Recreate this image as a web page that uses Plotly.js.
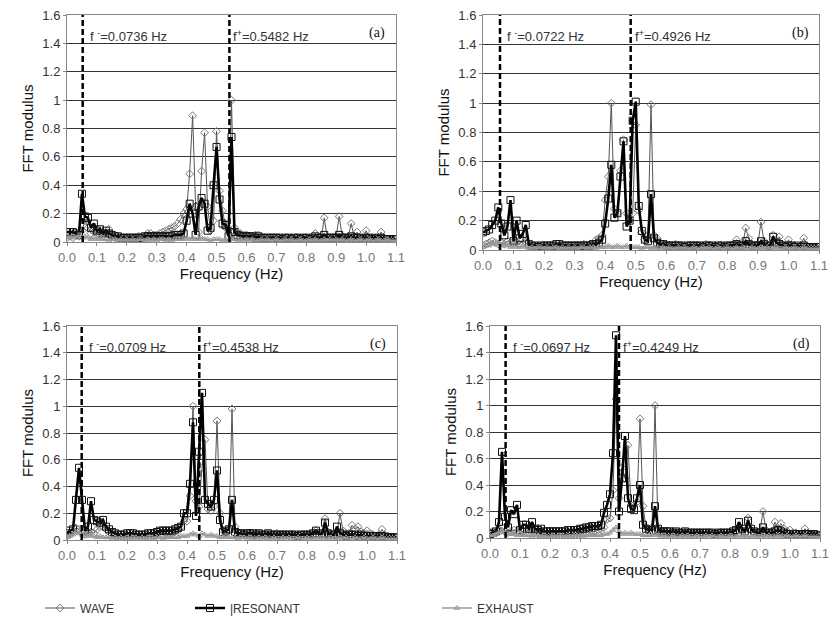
<!DOCTYPE html>
<html>
<head>
<meta charset="utf-8">
<script src="https://cdn.plot.ly/plotly-3.0.1.min.js"></script>
<style>html,body{margin:0;padding:0;background:#fff;}#chart{width:830px;height:624px;}</style>
</head>
<body>
<div id="chart"></div>
<script>
// Frequency bins (Hz)
const FREQ = [0.00,0.01,0.02,0.03,0.04,0.05,0.06,0.07,0.08,0.09,
0.10,0.11,0.12,0.13,0.14,0.15,0.16,0.17,0.18,0.19,
0.20,0.21,0.22,0.23,0.24,0.25,0.26,0.27,0.28,0.29,
0.30,0.31,0.32,0.33,0.34,0.35,0.36,0.37,0.38,0.39,
0.40,0.41,0.42,0.43,0.44,0.45,0.46,0.47,0.48,0.49,
0.50,0.51,0.52,0.53,0.54,0.55,0.56,0.57,0.58,0.59,
0.60,0.61,0.62,0.63,0.64,0.65,0.66,0.67,0.68,0.69,
0.70,0.71,0.72,0.73,0.74,0.75,0.76,0.77,0.78,0.79,
0.80,0.81,0.82,0.83,0.84,0.85,0.86,0.87,0.88,0.89,
0.90,0.91,0.92,0.93,0.94,0.95,0.96,0.97,0.98,0.99,
1.00,1.01,1.02,1.03,1.04,1.05,1.06,1.07,1.08,1.09,1.10];

const SERIES_NAMES = ["WAVE", "|RESONANT", "EXHAUST"];
const PANEL_LABELS = ["(a)", "(b)", "(c)", "(d)"];
const F_MINUS_TEXT = ["0.0736", "0.0722", "0.0709", "0.0697"];
const F_PLUS_TEXT = ["0.5482", "0.4926", "0.4538", "0.4249"];
// Frequencies where the dashed lines are drawn
const F_MINUS_LINE = [0.0525, 0.0557, 0.049, 0.052];
const F_PLUS_LINE = [0.543, 0.4835, 0.441, 0.43];

// Panel (a)
const WAVE_A = [.03,.04,.03,.05,.04,.08,.15,.1,.06,.07,
.06,.05,.04,.06,.09,.04,.03,.03,.02,.03,
.03,.02,.03,.03,.04,.03,.04,.06,.06,.05,
.05,.06,.07,.08,.09,.1,.11,.13,.16,.2,
.23,.48,.89,.25,.07,.5,.77,.25,.08,.15,
.78,.36,.22,.1,.09,1.0,.1,.07,.06,.05,
.05,.04,.04,.05,.05,.03,.03,.02,.03,.03,
.02,.03,.02,.03,.02,.03,.02,.03,.03,.02,
.03,.02,.03,.06,.03,.02,.17,.03,.02,.03,
.04,.18,.04,.03,.03,.13,.04,.07,.03,.02,
.08,.03,.02,.03,.02,.07,.03,.02,.02,.01,.02];
const RES_A = [.07,.07,.07,.06,.05,.34,.18,.17,.1,.13,
.08,.09,.06,.08,.06,.05,.04,.04,.03,.03,
.03,.03,.03,.03,.03,.03,.04,.04,.04,.04,
.04,.04,.04,.04,.04,.04,.05,.05,.05,.06,
.15,.27,.2,.05,.25,.31,.27,.08,.1,.4,
.67,.3,.13,.12,.04,.74,.07,.05,.04,.04,
.04,.04,.04,.03,.04,.03,.03,.03,.03,.03,
.03,.03,.02,.03,.03,.02,.03,.03,.02,.03,
.03,.02,.03,.04,.03,.03,.05,.03,.03,.03,
.03,.05,.03,.03,.03,.04,.03,.03,.03,.02,
.03,.03,.02,.03,.02,.03,.02,.02,.02,.02,.02];
const EXH_A = [.04,.03,.04,.03,.05,.03,.04,.03,.02,.03,
.02,.03,.02,.02,.01,.02,.02,.01,.02,.01,
.02,.01,.02,.01,.02,.02,.01,.02,.01,.02,
.01,.02,.02,.01,.02,.01,.02,.02,.02,.02,
.03,.02,.03,.02,.02,.03,.02,.02,.01,.02,
.02,.02,.01,.02,.01,.02,.02,.01,.02,.01,
.02,.01,.02,.01,.01,.02,.01,.02,.01,.01,
.02,.01,.01,.02,.01,.02,.01,.01,.02,.01,
.01,.02,.01,.02,.01,.01,.02,.01,.02,.01,
.02,.01,.02,.01,.01,.02,.01,.01,.02,.01,
.01,.02,.01,.01,.02,.01,.01,.02,.01,.01,.01];

// Panel (b)
const WAVE_B = [.03,.04,.05,.06,.05,.04,.05,.04,.06,.05,
.04,.05,.04,.07,.05,.03,.03,.02,.03,.02,
.03,.02,.03,.03,.02,.03,.02,.03,.03,.02,
.03,.03,.03,.04,.03,.04,.04,.07,.08,.1,
.34,.5,1.0,.28,.25,.54,.75,.25,.2,.25,
.85,.27,.12,.07,.1,.99,.1,.08,.05,.04,
.04,.03,.03,.04,.03,.03,.02,.03,.02,.03,
.03,.02,.03,.04,.03,.02,.03,.02,.03,.02,
.03,.03,.04,.07,.04,.03,.15,.08,.03,.03,
.04,.19,.06,.03,.04,.1,.05,.09,.04,.03,
.07,.03,.03,.02,.03,.08,.03,.02,.02,.02,.02];
const RES_B = [.12,.13,.14,.17,.2,.29,.18,.1,.16,.34,
.06,.2,.08,.11,.17,.04,.03,.03,.02,.03,
.03,.03,.03,.03,.04,.04,.03,.03,.03,.03,
.03,.03,.03,.03,.03,.03,.04,.04,.05,.07,
.18,.35,.58,.22,.25,.5,.74,.16,.2,.88,
1.01,.3,.13,.07,.06,.38,.08,.05,.04,.04,
.03,.03,.03,.03,.03,.03,.02,.03,.03,.03,
.03,.03,.02,.03,.03,.03,.02,.03,.03,.02,
.03,.03,.03,.04,.03,.03,.06,.04,.03,.03,
.03,.06,.04,.03,.03,.09,.05,.04,.03,.02,
.03,.03,.02,.03,.02,.03,.02,.02,.02,.02,.02];
const EXH_B = [.02,.03,.03,.05,.04,.05,.03,.04,.03,.02,
.03,.02,.02,.03,.02,.01,.02,.01,.02,.02,
.01,.02,.01,.02,.02,.01,.02,.01,.02,.01,
.02,.01,.02,.02,.01,.02,.02,.01,.02,.02,
.02,.03,.02,.02,.03,.02,.02,.03,.02,.02,
.02,.02,.01,.02,.02,.01,.02,.01,.01,.02,
.01,.02,.01,.01,.02,.01,.02,.01,.01,.02,
.01,.01,.02,.01,.02,.01,.01,.02,.01,.01,
.02,.01,.01,.02,.01,.02,.01,.01,.02,.01,
.01,.02,.01,.02,.01,.01,.02,.01,.01,.02,
.01,.01,.02,.01,.01,.02,.01,.01,.01,.01,.01];

// Panel (c)
const WAVE_C = [.03,.04,.06,.09,.08,.05,.04,.05,.06,.05,
.08,.1,.1,.08,.06,.04,.03,.03,.03,.03,
.03,.03,.03,.03,.03,.03,.03,.03,.03,.03,
.04,.04,.04,.05,.05,.05,.06,.07,.1,.14,
.14,.33,1.0,.29,.25,.54,.75,.23,.22,.25,
.89,.2,.07,.06,.08,.98,.1,.06,.05,.05,
.05,.05,.04,.04,.05,.04,.04,.04,.04,.04,
.05,.04,.04,.04,.03,.04,.03,.04,.04,.03,
.04,.04,.04,.07,.04,.04,.16,.06,.04,.04,
.05,.2,.07,.05,.05,.11,.08,.1,.06,.05,
.07,.05,.04,.03,.04,.08,.04,.03,.02,.02,.02];
const RES_C = [.05,.07,.08,.3,.54,.3,.07,.1,.29,.15,
.14,.13,.15,.1,.08,.06,.05,.04,.04,.04,
.05,.05,.05,.04,.04,.04,.04,.05,.05,.05,
.06,.07,.07,.07,.07,.07,.08,.09,.1,.2,
.2,.42,.88,.18,.66,1.1,.3,.27,.25,.3,
.52,.15,.06,.07,.08,.3,.06,.05,.05,.04,
.05,.05,.05,.04,.05,.04,.04,.05,.04,.04,
.04,.04,.04,.04,.04,.04,.04,.03,.04,.04,
.04,.04,.05,.07,.05,.04,.13,.05,.04,.04,
.1,.05,.04,.03,.04,.04,.04,.03,.04,.03,
.03,.03,.03,.03,.02,.03,.02,.02,.02,.02,.02];
const EXH_C = [.02,.03,.04,.06,.05,.04,.03,.04,.03,.03,
.02,.03,.02,.02,.02,.01,.02,.01,.02,.01,
.02,.01,.02,.02,.01,.02,.01,.02,.02,.01,
.02,.02,.01,.02,.02,.02,.02,.02,.03,.03,
.03,.04,.05,.04,.03,.05,.04,.03,.04,.03,
.03,.02,.02,.03,.02,.02,.02,.01,.02,.02,
.01,.02,.01,.01,.02,.01,.02,.01,.01,.02,
.01,.01,.02,.01,.02,.01,.01,.02,.01,.01,
.02,.01,.01,.02,.01,.02,.01,.01,.02,.01,
.01,.02,.01,.02,.01,.01,.02,.01,.01,.02,
.01,.01,.02,.01,.01,.02,.01,.01,.01,.01,.01];

// Panel (d)
const WAVE_D = [.02,.03,.04,.06,.08,.05,.04,.05,.06,.05,
.04,.05,.04,.04,.05,.04,.03,.03,.03,.03,
.03,.03,.03,.03,.03,.03,.03,.03,.03,.03,
.03,.04,.04,.04,.05,.05,.06,.07,.08,.14,
.15,.36,1.05,.3,.53,.45,.7,.25,.25,.27,
.9,.24,.08,.06,.08,1.0,.07,.05,.05,.04,
.04,.04,.04,.04,.03,.04,.04,.03,.04,.03,
.04,.03,.03,.04,.03,.03,.03,.04,.03,.03,
.04,.04,.05,.08,.05,.04,.15,.06,.04,.04,
.05,.2,.06,.04,.05,.12,.07,.11,.07,.05,
.06,.04,.04,.03,.03,.07,.04,.03,.02,.02,.02];
const RES_D = [.03,.04,.05,.12,.65,.16,.08,.21,.18,.25,
.06,.1,.1,.07,.12,.07,.06,.07,.05,.05,
.05,.05,.05,.05,.05,.05,.06,.06,.06,.06,
.07,.07,.08,.08,.09,.09,.09,.1,.19,.25,
.33,.64,1.53,.2,.45,.77,.3,.22,.21,.3,
.4,.1,.07,.06,.06,.24,.07,.05,.05,.05,
.05,.04,.05,.04,.04,.05,.04,.04,.04,.04,
.04,.04,.04,.04,.04,.03,.04,.04,.04,.04,
.04,.05,.06,.12,.07,.05,.13,.07,.05,.04,
.04,.08,.04,.04,.04,.05,.06,.05,.04,.03,
.03,.03,.03,.03,.03,.03,.03,.02,.03,.02,.02];
const EXH_D = [.02,.02,.03,.04,.05,.04,.03,.03,.03,.02,
.03,.02,.02,.02,.01,.02,.02,.01,.02,.01,
.01,.02,.01,.02,.02,.01,.02,.01,.02,.02,
.02,.01,.02,.02,.02,.02,.02,.02,.03,.03,
.04,.06,.08,.05,.03,.04,.03,.04,.03,.03,
.03,.02,.02,.02,.02,.03,.02,.01,.02,.01,
.01,.02,.01,.01,.02,.01,.02,.01,.01,.02,
.01,.01,.02,.01,.02,.01,.01,.02,.01,.01,
.02,.01,.01,.02,.01,.02,.01,.01,.02,.01,
.01,.02,.01,.02,.01,.01,.02,.01,.01,.02,
.01,.01,.02,.01,.01,.02,.01,.01,.01,.01,.01];

const PANELS = [
  {w: WAVE_A, r: RES_A, e: EXH_A},
  {w: WAVE_B, r: RES_B, e: EXH_B},
  {w: WAVE_C, r: RES_C, e: EXH_C},
  {w: WAVE_D, r: RES_D, e: EXH_D}
];

// layout geometry (pixels) for the 4 plot areas
const W = 830, H = 624;
const boxes = [
  {l: 67, r: 396, t: 15, b: 242},
  {l: 483, r: 819, t: 15, b: 250},
  {l: 67, r: 397, t: 326, b: 540},
  {l: 490, r: 820, t: 326, b: 538}
];

const styles = [
  {line: {color: '#555', width: 1}, marker: {symbol: 'diamond-open', size: 6, color: '#777', line: {width: 1}}},
  {line: {color: '#000', width: 2.6}, marker: {symbol: 'square-open', size: 7, color: '#111', line: {width: 1}}},
  {line: {color: '#999', width: 1.5}, marker: {symbol: 'triangle-up-open', size: 5, color: '#999', line: {width: 1}}}
];
const legendIds = ['legend', 'legend2', 'legend3'];

const traces = [];
PANELS.forEach((p, i) => {
  const sfx = i === 0 ? '' : String(i + 1);
  [p.w, p.r, p.e].forEach((ys, k) => {
    traces.push({
      type: 'scatter', mode: 'lines+markers',
      x: FREQ, y: ys, name: SERIES_NAMES[k],
      xaxis: 'x' + sfx, yaxis: 'y' + sfx,
      line: styles[k].line, marker: styles[k].marker,
      showlegend: i === 0, legend: legendIds[k],
      hoverinfo: 'skip'
    });
  });
});

const layout = {
  width: W, height: H,
  margin: {l: 0, r: 0, t: 0, b: 0},
  paper_bgcolor: '#fff', plot_bgcolor: '#fff',
  font: {family: 'Liberation Sans, Arial, sans-serif', color: '#222'},
  shapes: [], annotations: []
};

boxes.forEach((bx, i) => {
  const sfx = i === 0 ? '' : String(i + 1);
  const xa = 'xaxis' + sfx, ya = 'yaxis' + sfx;
  layout[xa] = {
    domain: [bx.l / W, bx.r / W], anchor: 'y' + sfx,
    range: [0, 1.1], dtick: 0.1, tick0: 0, tickformat: '.1f',
    showgrid: false, zeroline: false,
    showline: true, linecolor: '#888', linewidth: 1, mirror: true,
    ticks: 'outside', ticklen: 3, tickcolor: '#888',
    tickfont: {size: 13, color: '#777'},
    title: {text: 'Frequency (Hz)', font: {size: 15, color: '#111'}, standoff: 1},
    automargin: false
  };
  layout[ya] = {
    domain: [1 - bx.b / H, 1 - bx.t / H], anchor: 'x' + sfx,
    range: [0, 1.6], dtick: 0.2, tick0: 0,
    showgrid: true, gridcolor: '#333', gridwidth: 1, zeroline: false,
    showline: true, linecolor: '#888', linewidth: 1, mirror: true,
    ticks: 'outside', ticklen: 3, tickcolor: '#888',
    tickfont: {size: 13, color: '#333'},
    title: {text: 'FFT modulus', font: {size: 15, color: '#111'}, standoff: 5},
    automargin: false
  };
  const xr = 'x' + sfx, yr = 'y' + sfx;
  [F_MINUS_LINE[i], F_PLUS_LINE[i]].forEach(fx => {
    layout.shapes.push({type: 'line', xref: xr, yref: yr, x0: fx, x1: fx, y0: 0, y1: 1.6,
      line: {color: '#000', width: 2.5, dash: '6px,3px'}});
  });
  const pw = (bx.r - bx.l) / 1.1;
  const lineMinusPx = bx.l + F_MINUS_LINE[i] * pw;
  const linePlusPx = bx.l + F_PLUS_LINE[i] * pw;
  layout.annotations.push({xref: 'paper', yref: 'paper', x: (lineMinusPx + 5) / W, y: 1 - (bx.t + 21) / H,
    xanchor: 'left', yanchor: 'middle', showarrow: false,
    text: 'f <sup>-</sup>=' + F_MINUS_TEXT[i] + ' Hz', font: {size: 13, color: '#333'}});
  layout.annotations.push({xref: 'paper', yref: 'paper', x: (linePlusPx + 2) / W, y: 1 - (bx.t + 21) / H,
    xanchor: 'left', yanchor: 'middle', showarrow: false,
    text: 'f<sup>+</sup>=' + F_PLUS_TEXT[i] + ' Hz', font: {size: 13, color: '#333'}});
  layout.annotations.push({xref: 'paper', yref: 'paper', x: (bx.r - 19) / W, y: 1 - (bx.t + 18) / H,
    xanchor: 'center', yanchor: 'middle', showarrow: false,
    text: PANEL_LABELS[i], font: {family: 'Liberation Serif, Times New Roman, serif', size: 14, color: '#111'}});
});

const legendBase = {orientation: 'h', yanchor: 'middle', xanchor: 'left', y: 1 - 608 / H,
  font: {size: 12, color: '#333'}, bgcolor: 'rgba(0,0,0,0)', borderwidth: 0, itemwidth: 30};
layout.legend = Object.assign({}, legendBase, {x: 40 / W});
layout.legend2 = Object.assign({}, legendBase, {x: 190 / W});
layout.legend3 = Object.assign({}, legendBase, {x: 437 / W});

Plotly.newPlot('chart', traces, layout, {displayModeBar: false, staticPlot: true});
</script>
</body>
</html>
